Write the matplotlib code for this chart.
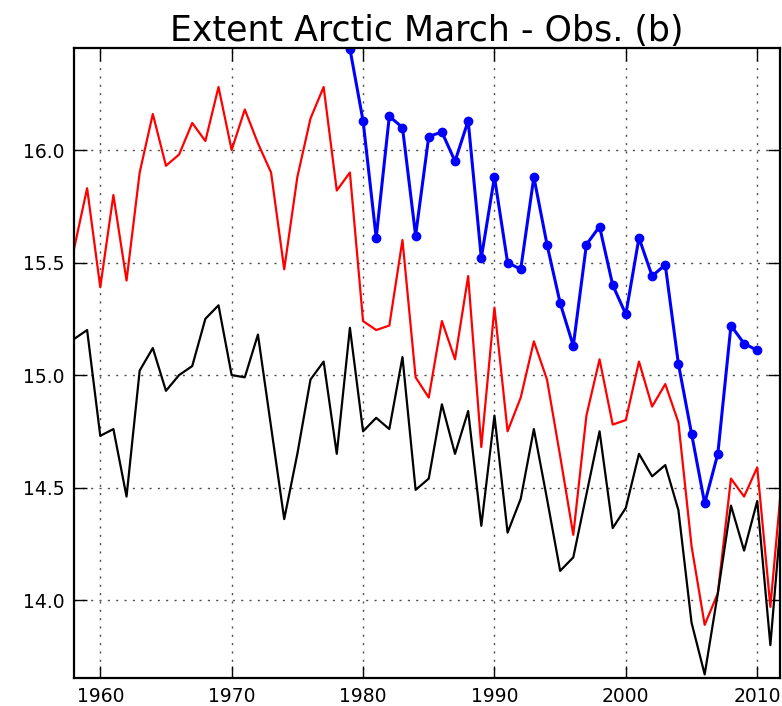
import numpy as np
import matplotlib.pyplot as plt

# Arctic sea-ice extent in March (10^6 km^2)
years_model = np.arange(1958, 2013)

extent_red = [15.56, 15.83, 15.39, 15.80, 15.42, 15.90, 16.16, 15.93, 15.98, 16.12,
              16.04, 16.28, 16.00, 16.18, 16.03, 15.90, 15.47, 15.88, 16.14, 16.28,
              15.82, 15.90, 15.24, 15.20, 15.22, 15.60, 14.99, 14.90, 15.24, 15.07,
              15.44, 14.68, 15.30, 14.75, 14.90, 15.15, 14.98, 14.64, 14.29, 14.82,
              15.07, 14.78, 14.80, 15.06, 14.86, 14.96, 14.79, 14.24, 13.89, 14.03,
              14.54, 14.46, 14.59, 13.97, 14.62]

extent_black = [15.16, 15.20, 14.73, 14.76, 14.46, 15.02, 15.12, 14.93, 15.00, 15.04,
                15.25, 15.31, 15.00, 14.99, 15.18, 14.77, 14.36, 14.65, 14.98, 15.06,
                14.65, 15.21, 14.75, 14.81, 14.76, 15.08, 14.49, 14.54, 14.87, 14.65,
                14.84, 14.33, 14.82, 14.30, 14.45, 14.76, 14.45, 14.13, 14.19, 14.47,
                14.75, 14.32, 14.41, 14.65, 14.55, 14.60, 14.40, 13.90, 13.67, 14.03,
                14.42, 14.22, 14.44, 13.80, 14.50]

years_obs = np.arange(1979, 2011)
extent_obs = [16.45, 16.13, 15.61, 16.15, 16.10, 15.62, 16.06, 16.08, 15.95, 16.13,
              15.52, 15.88, 15.50, 15.47, 15.88, 15.58, 15.32, 15.13, 15.58, 15.66,
              15.40, 15.27, 15.61, 15.44, 15.49, 15.05, 14.74, 14.43, 14.65, 15.22,
              15.14, 15.11]

fig = plt.figure(figsize=(7.82, 7.06), dpi=100)
ax = fig.add_axes([0.0946, 0.040, 0.9028, 0.8916])

ax.plot(years_model, extent_red, color='r', lw=1.6)
ax.plot(years_model, extent_black, color='k', lw=1.6)
ax.plot(years_obs, extent_obs, color='b', lw=2.2, marker='o', ms=6)

ax.set_xlim(1958, 2011.73)
ax.set_ylim(13.655, 16.452)
ax.set_xticks([1960, 1970, 1980, 1990, 2000, 2010])
ax.set_yticks([14.0, 14.5, 15.0, 15.5, 16.0])

ax.grid(True, color='0.3', linestyle=(0, (1.5, 4.5)), lw=1.0)
ax.tick_params(direction='in', length=9, width=1, top=True, right=True,
               labelsize=13.5, pad=7)
for sp in ax.spines.values():
    sp.set_linewidth(1.6)

ax.set_title('Extent Arctic March - Obs. (b)', fontsize=25, pad=5)

fig.savefig('out.png', dpi=100)
